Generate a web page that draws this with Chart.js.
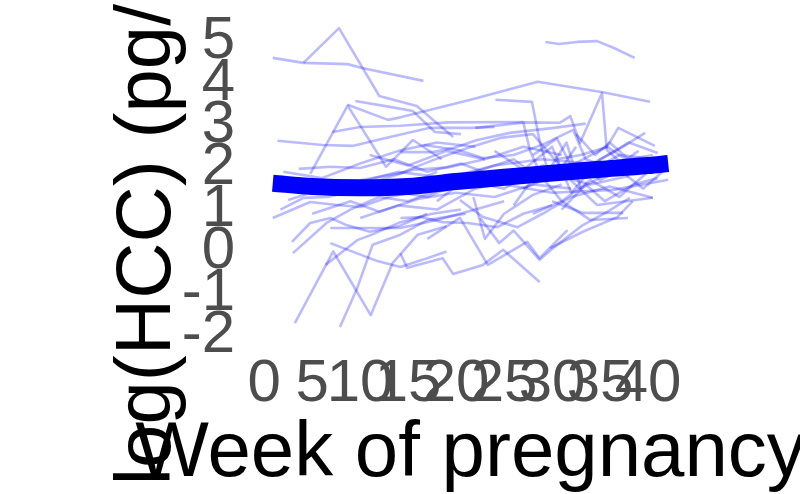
<!DOCTYPE html>
<html>
<head>
<meta charset="utf-8">
<script src="https://cdn.jsdelivr.net/npm/chart.js@4/dist/chart.umd.min.js"></script>
<style>
  html, body { margin: 0; padding: 0; background: #ffffff; }
  canvas { display: block; }
</style>
</head>
<body>
<canvas id="c" width="800" height="494"></canvas>
<script>
// ---- Data (week of pregnancy, log(HCC)) ----
const subjectWeeks = [
  [0.9, 4.1, 8.7, 10.2, 16.6],
  [4.1, 7.8, 12.0, 15.9, 19.7],
  [4.8, 8.7, 12.7, 15.5, 18.5],
  [9.5, 13.1, 15.5, 17.8, 20.5],
  [8.7, 12.9, 14.2, 21.5, 28.5, 35.3, 40.2],
  [7.1, 10, 14.2, 19.2, 27.0, 27.7, 28.8],
  [1.4, 6.1, 9.3, 13.1, 17.3, 21.5, 24],
  [24.1, 27.9, 28.7, 29.6],
  [22.0, 27.2, 30.8, 31.9, 32.9, 35.2, 35.7, 37.3],
  [30.5, 33, 35.7, 36.9, 40.7],
  [30, 33, 36.8, 39.7],
  [29.3, 30.7, 32.6, 34.7, 36.5, 38.6],
  [14.2, 17.6, 19.7, 22.2, 25.6, 30.2, 33.5],
  [16.6, 20.2, 22.8, 26, 29, 32.2, 33.5, 36],
  [10, 14.2, 17.6, 21.2, 24.6, 28, 31, 32.5],
  [3.6, 6.9, 10, 13.5, 17, 20.5, 24],
  [0.9, 4.8, 7.6, 10, 13, 17],
  [1.7, 4.1, 6.6, 9.5, 12.5, 15, 18],
  [2.5, 5.5, 9, 12, 15.5, 19, 23],
  [2.9, 4.8, 6.9, 8.6, 11, 14, 17],
  [3.0, 6.5, 9, 12, 15, 18],
  [3.2, 7.2, 11.1, 13.4, 16, 19],
  [7.9, 9.7, 11.3, 14.2, 17, 21],
  [6.4, 9.7, 11.1, 14.2, 17.5, 20.5],
  [6.9, 9.3, 14.2, 18, 22, 25],
  [6.9, 11.8, 14.2, 16.5, 19],
  [14.2, 14.9, 18.6, 19.7, 22.8, 24.9, 28.7],
  [17, 20.4, 23.3, 27.4, 28.7, 31.6],
  [22.5, 24.5, 26, 28.7, 30.1, 33.2, 35.7, 38.1],
  [29.8, 33.2, 36.8, 38.4],
  [14.2, 16.3, 18.6, 21.2, 24.3, 27, 30],
  [20.4, 22.8, 26.4, 29, 32, 36, 40.5],
  [21.8, 23, 25, 28, 31],
  [28, 31, 34, 37.9],
  [30, 33.2, 37.4],
  [25, 30, 36.4, 42.1],
  [27, 31, 34.7, 40.5],
  [1.2, 5, 9, 14, 19, 24, 29, 34, 40],
  [5, 9, 12, 16, 20, 24, 28, 32],
  [10, 14, 18, 22, 26, 30, 34, 38],
  [13, 17, 21, 25, 29, 33, 37, 41],
  [18, 22, 26, 29, 31.5, 33, 36, 39],
  [24, 27, 30, 32, 35, 38, 41],
  [26, 28.5, 31, 34, 37, 40],
  [11, 15, 19, 23, 27, 31],
  [31, 33.5, 35.5, 38.5, 41],
  [2, 6, 10, 14, 18, 22],
  [32.5, 34.5, 36, 38, 40.5],
  [28, 30.5, 32, 35.7, 39, 42],
  [33, 35, 37, 39.5, 41.5]
];
const subjectLogHCC = [
  [4.62, 4.5, 4.47, 4.38, 4.07],
  [4.5, 5.33, 3.71, 3.47, 2.73],
  [1.85, 3.48, 2.02, 2.66, 2.2],
  [3.59, 3.45, 3.35, 2.85, 2.8],
  [3.5, 3.14, 3.2, 3.62, 4.05, 3.8, 3.57],
  [2.85, 2.97, 3.0, 3.08, 3.09, 2.4, 1.85],
  [2.64, 2.54, 2.52, 2.73, 2.95, 2.95, 2.97],
  [3.62, 3.57, 2.64, 1.9],
  [2.95, 3.08, 3.07, 3.23, 2.59, 3.78, 2.42, 2.1],
  [2.2, 2.3, 2.49, 2.95, 2.52],
  [1.7, 1.95, 2.42, 2.83],
  [5.0, 4.95, 5.0, 5.02, 4.85, 4.62],
  [2.37, 2.37, 2.47, 2.66, 2.83, 2.95, 3.05],
  [2.54, 2.42, 2.23, 2.3, 2.55, 2.9, 2.2, 2.0],
  [1.7, 1.87, 2.18, 2.47, 2.71, 2.8, 2.0, 2.5],
  [1.97, 2.02, 1.99, 2.2, 1.9, 2.1, 1.8],
  [0.8, 1.18, 1.11, 1.06, 1.3, 1.5],
  [1.0, 1.28, 1.3, 1.45, 1.7, 1.6, 1.9],
  [1.23, 1.45, 1.6, 1.7, 1.95, 2.0, 2.2],
  [0.23, 0.68, 0.8, 0.63, 0.47, 0.6, 0.9],
  [-0.04, 0.68, 1.0, 1.3, 1.2, 1.45],
  [-1.71, 0.0, -1.52, -0.27, 0.4, 0.6],
  [-1.8, -0.87, 0.16, 0.4, 0.75, 0.9],
  [-0.32, 0.27, 0.39, 0.7, 0.9, 1.0],
  [0.56, 0.56, 0.56, 0.75, 1.0, 1.2],
  [0.2, -0.23, -0.37, -0.2, 0.0],
  [-0.05, -0.39, -0.16, -0.54, -0.32, 0.04, -0.73],
  [0.3, 0.8, -0.32, 0.23, -0.16, 0.51],
  [0.8, 0.2, 0.5, -0.2, 0.08, 0.63, 0.94, 1.28],
  [0.08, 0.47, 0.82, 1.2],
  [0.8, 0.82, 0.7, 0.68, 0.58, 0.9, 1.1],
  [1.23, 0.82, 0.58, 0.9, 1.3, 1.55, 1.28],
  [1.3, 0.3, 0.9, 1.35, 1.6],
  [0.9, 1.2, 0.75, 0.8],
  [1.2, 0.92, 0.92],
  [1.6, 1.4, 1.47, 1.71],
  [1.5, 1.9, 1.11, 1.28],
  [1.55, 1.7, 1.6, 1.9, 1.75, 2.05, 2.2, 2.1, 2.0],
  [0.9, 1.2, 0.95, 1.25, 1.4, 1.3, 1.6, 1.5],
  [0.8, 1.1, 1.0, 1.5, 1.7, 1.85, 1.6, 1.8],
  [1.45, 1.3, 1.7, 1.5, 2.05, 1.8, 2.3, 2.2],
  [1.2, 1.9, 2.2, 1.7, 2.6, 1.5, 1.9, 2.4],
  [2.4, 1.95, 2.5, 1.4, 2.2, 2.6, 2.35],
  [1.1, 1.9, 1.2, 1.7, 1.3, 1.9],
  [2.3, 2.05, 2.4, 2.2, 2.5, 2.3],
  [1.0, 1.6, 1.2, 1.6, 1.75],
  [1.9, 1.75, 2.1, 2.4, 2.6, 2.5],
  [2.8, 2.3, 2.6, 2.2, 2.3],
  [2.3, 2.7, 2.05, 2.5, 2.0, 2.2],
  [2.1, 1.7, 1.95, 1.5, 1.9]
];
const smoothWeeks  = [0.9, 5, 10, 15, 20, 25, 30, 35, 40, 42.1];
const smoothLogHCC = [1.63, 1.55, 1.52, 1.55, 1.67, 1.77, 1.87, 1.96, 2.05, 2.10];
const xTickValues = [0, 5, 10, 15, 20, 25, 30, 35, 40];
const yTickValues = [-2, -1, 0, 1, 2, 3, 4, 5];
const xTitle = 'Week of pregnancy';
const yTitle = 'log(HCC) (pg/mg)';

// ---- Build datasets ----
const datasets = subjectWeeks.map((wk, i) => ({
  data: wk.map((w, j) => ({ x: w, y: subjectLogHCC[i][j] })),
  showLine: true,
  borderColor: 'rgba(0,0,255,0.27)',
  borderWidth: 2.6,
  pointRadius: 0,
  tension: 0,
  borderJoinStyle: 'round'
}));
datasets.push({
  data: smoothWeeks.map((w, j) => ({ x: w, y: smoothLogHCC[j] })),
  showLine: true,
  borderColor: '#0000ff',
  borderWidth: 17,
  pointRadius: 0,
  cubicInterpolationMode: 'monotone',
  borderCapStyle: 'butt'
});

const FONT = '"Liberation Sans", Arial, sans-serif';

const titlePlugin = {
  id: 'axisTitles',
  afterDraw(chart) {
    const ctx = chart.ctx;
    const a = chart.chartArea;
    ctx.save();
    ctx.fillStyle = '#000000';
    ctx.font = '78px ' + FONT;
    ctx.textAlign = 'center';
    ctx.textBaseline = 'alphabetic';
    ctx.fillText(xTitle, (a.left + a.right) / 2, 476);
    ctx.translate(170, (a.top + a.bottom) / 2);
    ctx.rotate(-Math.PI / 2);
    ctx.fillText(yTitle, 0, 0);
    ctx.restore();
  }
};

new Chart(document.getElementById('c'), {
  type: 'scatter',
  data: { datasets },
  options: {
    responsive: false,
    animation: false,
    devicePixelRatio: 1,
    layout: { padding: { top: 13, right: 112, left: 0, bottom: 0 } },
    plugins: { legend: { display: false }, tooltip: { enabled: false } },
    scales: {
      x: {
        type: 'linear',
        min: -1.16, max: 44.16,
        grid: { display: false, drawTicks: false },
        border: { display: false },
        afterBuildTicks: s => { s.ticks = xTickValues.map(v => ({ value: v })); },
        afterFit: s => { s.height = 152; s.paddingLeft = 0; s.paddingRight = 0; },
        ticks: { color: '#4d4d4d', font: { size: 60, family: FONT }, padding: 6, maxRotation: 0, autoSkip: false }
      },
      y: {
        type: 'linear',
        min: -2.16, max: 5.69,
        grid: { display: false, drawTicks: false },
        border: { display: false },
        afterBuildTicks: s => { s.ticks = yTickValues.map(v => ({ value: v })); },
        afterFit: s => { s.width = 253; s.paddingTop = 0; s.paddingBottom = 0; },
        ticks: { color: '#4d4d4d', font: { size: 60, family: FONT }, padding: 18, autoSkip: false }
      }
    }
  },
  plugins: [titlePlugin]
});
</script>
</body>
</html>
